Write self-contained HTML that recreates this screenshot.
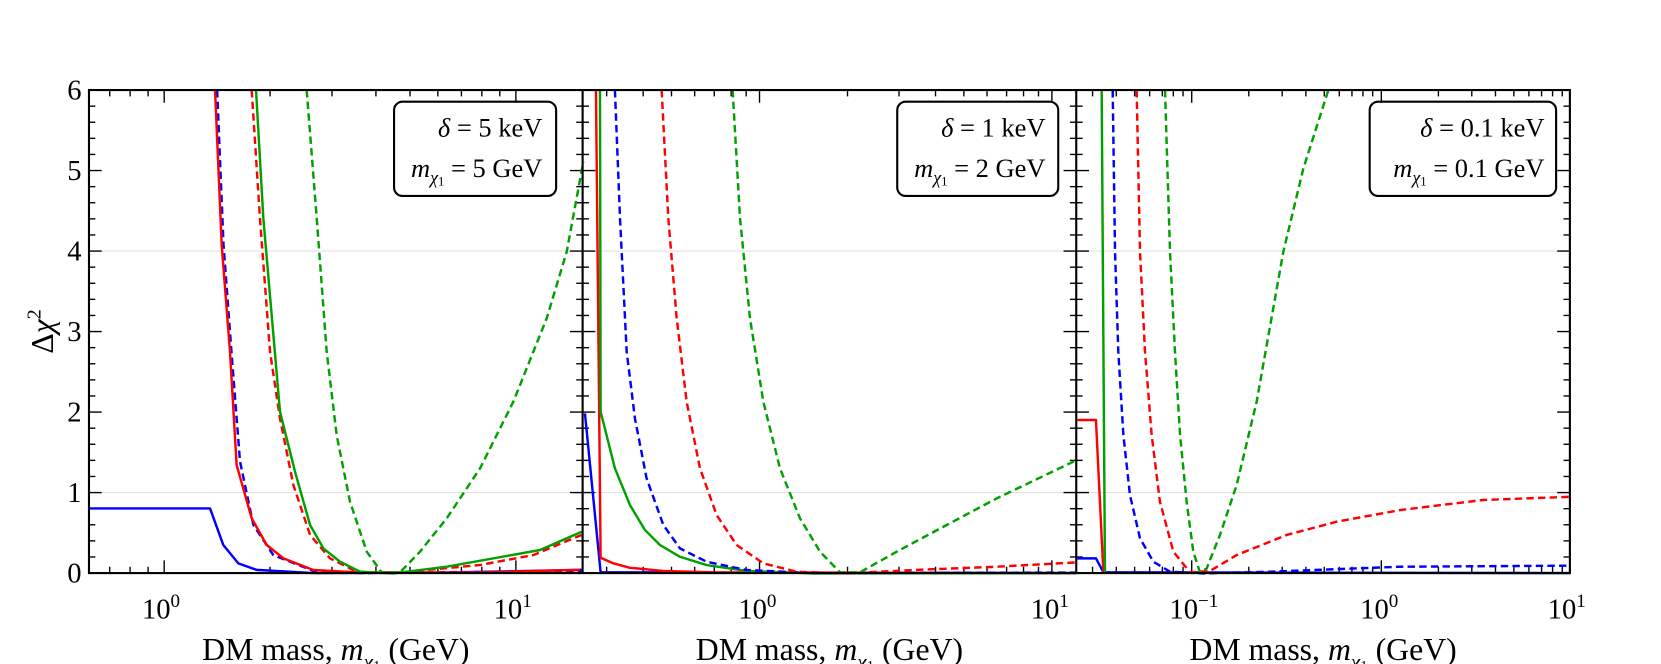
<!DOCTYPE html>
<html><head><meta charset="utf-8"><style>
html,body{margin:0;padding:0;background:#fff;}
svg{display:block;font-family:"Liberation Serif",serif;}
</style></head><body>
<svg id="s" width="1661" height="664" viewBox="0 0 1661 664" xmlns="http://www.w3.org/2000/svg">
<g transform="scale(1.0593)">
<g stroke="#e2e2e2" stroke-width="1">
<line x1="84" y1="465" x2="1482" y2="465"/><line x1="84" y1="237" x2="1482" y2="237"/>
</g>
<g id="ticks" stroke="#000" stroke-width="1.3"></g>
<g fill="none" stroke-width="2.3" stroke-linejoin="round">
<polyline stroke="#0000ff" points="84,480 198.3,480 210.8,514.5 225,531.8 242.3,538 296,541 420,540.5 549,538"/>
<polyline stroke="#0000ff" stroke-dasharray="7,4" points="205,85 211,231 218.5,332 226.6,435.8 239.2,495.6 258,524 296,539 340,541 549,539"/>
<polyline stroke="#ff0000" points="203,85 209.3,231.3 217.1,332 223.4,439 237.6,489.3 251.8,514.5 267.5,527.1 295.8,538.1 336.7,540.3 450,540.5 547.6,538"/>
<polyline stroke="#ff0000" stroke-dasharray="7,4" points="237.6,85 245.4,206.1 254.9,332 264.3,395 277,458 292.7,505 311.5,527.1 336.7,539.7 371,541 453,533.4 503.5,524 549,505"/>
<polyline stroke="#00a000" points="241.7,85 248.6,206 264.3,388.6 278.5,445.3 292.7,495.6 305.3,517.7 321,530.3 339.9,539.7 371.3,541.3 421.7,535 509.8,519.2 549.1,502"/>
<polyline stroke="#00a000" stroke-dasharray="7,4" points="289.5,85 299,206 308.4,332 317.8,410.7 330.4,473.6 346.2,520.8 360.3,540.3 377.6,540.3 396.5,520.8 421.7,489.3 453.2,442.1 484.6,379.2 516.1,300.5 535,237.6 550.7,152.6"/>
<polyline stroke="#0000ff" points="552.2,390.2 567,540.3 1016,541"/>
<polyline stroke="#ff0000" points="562.6,85 567,526.5 579,531.8 594.7,536 626,539 673.4,540.3 1016,541"/>
<polyline stroke="#00a000" points="566.4,85 567,388.6 580.5,442.1 594.7,476.8 608.9,500.4 623,514.5 641.9,525.6 667.1,533.4 704.9,539 767.8,541.3 1016,541"/>
<polyline stroke="#0000ff" stroke-dasharray="7,4" points="580.5,85 585.3,206.1 591.6,332 599.4,395 610.4,451.6 626.2,495.6 641.9,517.7 667.1,530.3 704.9,538.1 768,541 1016,540.5"/>
<polyline stroke="#ff0000" stroke-dasharray="7,4" points="624.6,85 630.9,206.1 638.8,300.5 648.2,379.2 660.8,442.1 676.5,486.2 695.4,514.5 720.6,531.8 752,539.7 799.3,541.3 862.2,538.1 940.9,535 1016.4,530.9"/>
<polyline stroke="#00a000" stroke-dasharray="7,4" points="691.6,85 698.6,206.1 708,300.5 720.6,379.2 736.3,442.1 755.2,489.3 774.1,520.8 793,540.3 811.8,540.3 846.5,520.8 893.7,495.6 940.9,470.5 1016.4,434.3"/>
<polyline stroke="#0000ff" points="1017,527.1 1034.6,527.1 1041.6,540.3 1482,541"/>
<polyline stroke="#ff0000" points="1017,396.5 1034.6,396.5 1041.6,540.3"/>
<polyline stroke="#00a000" points="1040,85 1043.1,540.3"/>
<polyline stroke="#0000ff" stroke-dasharray="7,4" points="1050.4,85 1052.6,237.6 1055.7,332 1060.5,410.7 1066.7,467.3 1076.2,508.2 1088.8,530.3 1104.5,539.7 1136,541.3 1198.9,539.7 1321.7,535 1482,534"/>
<polyline stroke="#ff0000" stroke-dasharray="7,4" points="1073,85 1076.2,237.6 1080.9,332 1087.2,410.7 1095,473.6 1107.7,520.8 1123.4,540.3 1142.3,539 1167.4,524 1214.7,505 1261.9,492.5 1321.7,481.5 1400,472 1482,469"/>
<polyline stroke="#00a000" stroke-dasharray="7,4" points="1099.8,85 1104.5,237.6 1109.2,332 1114,410.7 1120.2,473.6 1126.5,520.8 1132.8,540.3 1139.1,536.6 1151.7,505 1167.4,457.9 1186.3,379.2 1211.5,237.6 1230.4,159 1254,85"/>
</g>
<g fill="none" stroke="#000" stroke-width="2">
<rect x="84" y="85" width="1398" height="456"/>
<line x1="550" y1="85" x2="550" y2="541"/><line x1="1016" y1="85" x2="1016" y2="541"/>
<rect x="372" y="96" width="153" height="89" rx="8"/>
<rect x="847" y="96" width="152" height="89" rx="8"/>
<rect x="1293" y="96" width="176" height="89" rx="8"/>
</g>
<g font-size="25" text-anchor="end">
<text x="512" y="129"><tspan font-style="italic">δ</tspan> = 5 keV</text>
<text x="512" y="167"><tspan font-style="italic">m</tspan><tspan font-style="italic" font-size="17" dy="6">χ</tspan><tspan font-size="12" dy="2">1</tspan><tspan dy="-8"> = 5 GeV</tspan></text>
<text x="987" y="129"><tspan font-style="italic">δ</tspan> = 1 keV</text>
<text x="987" y="167"><tspan font-style="italic">m</tspan><tspan font-style="italic" font-size="17" dy="6">χ</tspan><tspan font-size="12" dy="2">1</tspan><tspan dy="-8"> = 2 GeV</tspan></text>
<text x="1458" y="129"><tspan font-style="italic">δ</tspan> = 0.1 keV</text>
<text x="1458" y="167"><tspan font-style="italic">m</tspan><tspan font-style="italic" font-size="17" dy="6">χ</tspan><tspan font-size="12" dy="2">1</tspan><tspan dy="-8"> = 0.1 GeV</tspan></text>
</g>
<g font-size="27" text-anchor="end">
<text x="77" y="550">0</text><text x="77" y="474">1</text><text x="77" y="398">2</text><text x="77" y="322">3</text><text x="77" y="246">4</text><text x="77" y="170">5</text><text x="77" y="94">6</text>
</g>
<g font-size="27" text-anchor="middle">
<text x="152" y="584">10<tspan font-size="18" dy="-11">0</tspan></text>
<text x="484" y="584">10<tspan font-size="18" dy="-11">1</tspan></text>
<text x="715" y="584">10<tspan font-size="18" dy="-11">0</tspan></text>
<text x="991" y="584">10<tspan font-size="18" dy="-11">1</tspan></text>
<text x="1127" y="584">10<tspan font-size="18" dy="-11">−1</tspan></text>
<text x="1302" y="584">10<tspan font-size="18" dy="-11">0</tspan></text>
<text x="1479" y="584">10<tspan font-size="18" dy="-11">1</tspan></text>
</g>
<g font-size="30" text-anchor="middle">
<text x="317" y="623">DM mass, <tspan font-style="italic">m</tspan><tspan font-style="italic" font-size="20" dy="8">χ</tspan><tspan font-size="14" dy="2">1</tspan><tspan dy="-10"> (GeV)</tspan></text>
<text x="783" y="623">DM mass, <tspan font-style="italic">m</tspan><tspan font-style="italic" font-size="20" dy="8">χ</tspan><tspan font-size="14" dy="2">1</tspan><tspan dy="-10"> (GeV)</tspan></text>
<text x="1249" y="623">DM mass, <tspan font-style="italic">m</tspan><tspan font-style="italic" font-size="20" dy="8">χ</tspan><tspan font-size="14" dy="2">1</tspan><tspan dy="-10"> (GeV)</tspan></text>
</g>
<text transform="translate(50,313) rotate(-90)" font-size="30" text-anchor="middle">Δ<tspan font-style="italic">χ</tspan><tspan font-size="19" dy="-12">2</tspan></text>
</g>
</svg>
<script>
var g=document.getElementById('ticks'),ns='http://www.w3.org/2000/svg';
function L(a,b,c,d){var l=document.createElementNS(ns,'line');l.setAttribute('x1',a);l.setAttribute('y1',b);l.setAttribute('x2',c);l.setAttribute('y2',d);g.appendChild(l);}
for(var i=0;i<=30;i++){var y=541-i*15.2,maj=i%5==0,len=maj?12:6;
 L(84,y,84+len,y);L(1482,y,1482-len,y);
 L(550-len,y,550+len,y);L(1016-len,y,1016+len,y);}
var P=[[84,550,155,332],[550,1016,717,276],[1016,1482,1304,179]];
P.forEach(function(p){for(var d=-3;d<=2;d++){for(var k=1;k<10;k++){var x=p[2]+p[3]*(d+Math.log10(k));
 if(x<p[0]+2||x>p[1]-2)continue;var len=k==1?12:6;L(x,541,x,541-len);L(x,85,x,85+len);}}});
</script>
</body></html>
